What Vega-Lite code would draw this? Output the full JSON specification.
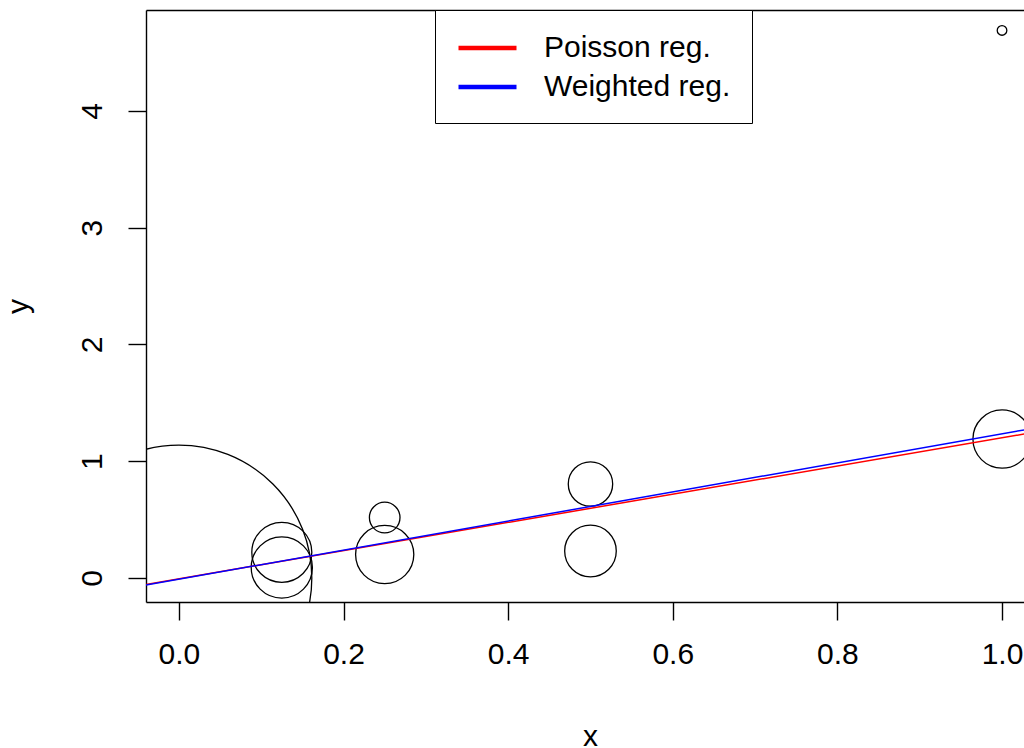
{
  "$schema": "https://vega.github.io/schema/vega-lite/v6.json",
  "width": 878,
  "height": 592,
  "autosize": "none",
  "padding": {"left": 146, "top": 10, "right": 0, "bottom": 146},
  "background": "white",
  "config": {
    "view": {"stroke": null},
    "font": "Liberation Sans",
    "axis": {
      "grid": false,
      "domainColor": "black",
      "domainWidth": 1.4,
      "tickColor": "black",
      "tickWidth": 1.4,
      "tickSize": 18,
      "labelFont": "Liberation Sans",
      "labelFontSize": 30,
      "labelColor": "black",
      "titleFont": "Liberation Sans",
      "titleFontSize": 30,
      "titleFontWeight": "normal",
      "titleColor": "black"
    },
    "legend": {
      "labelFont": "Liberation Sans"
    }
  },
  "datasets": {
    "points": [
      {"x": 0.0, "y": 0.0, "w": 4.43},
      {"x": 0.125, "y": 0.22, "w": 1.0},
      {"x": 0.125, "y": 0.09, "w": 1.02},
      {"x": 0.25, "y": 0.518, "w": 0.51},
      {"x": 0.25, "y": 0.201, "w": 0.97},
      {"x": 0.5, "y": 0.805, "w": 0.74},
      {"x": 0.5, "y": 0.231, "w": 0.86},
      {"x": 1.0, "y": 1.19, "w": 0.97},
      {"x": 1.0, "y": 4.69, "w": 0.16}
    ],
    "lines": [
      {"x": -0.04, "y": -0.0553, "model": "Poisson reg."},
      {"x": 1.04, "y": 1.249, "model": "Poisson reg."},
      {"x": -0.04, "y": -0.0598, "model": "Weighted reg."},
      {"x": 1.04, "y": 1.285, "model": "Weighted reg."}
    ]
  },
  "layer": [
    {
      "data": {"name": "points"},
      "mark": {"type": "point", "shape": "circle", "filled": false, "stroke": "black", "strokeWidth": 1.3, "opacity": 1, "clip": true},
      "encoding": {
        "x": {
          "field": "x", "type": "quantitative",
          "scale": {"domain": [-0.04, 1.0267], "nice": false, "zero": false},
          "axis": {"orient": "bottom", "values": [0, 0.2, 0.4, 0.6, 0.8, 1.0], "format": ".1f", "labelPadding": 19, "title": "x", "titleX": 444, "titleY": 143, "titleBaseline": "alphabetic", "titleAlign": "center"}
        },
        "y": {
          "field": "y", "type": "quantitative",
          "scale": {"domain": [-0.2056, 4.865], "nice": false, "zero": false},
          "axis": {"orient": "left", "values": [0, 1, 2, 3, 4], "format": "d", "labelAngle": 270, "labelPadding": 21, "title": "y", "titleAngle": 270, "titleX": -119, "titleY": 296, "titleBaseline": "alphabetic", "titleAlign": "center"}
        },
        "size": {
          "field": "w", "type": "quantitative",
          "scale": {"type": "pow", "exponent": 2, "domain": [0, 1], "range": [0, 3600]},
          "legend": null
        }
      }
    },
    {
      "data": {"name": "lines"},
      "mark": {"type": "line", "strokeWidth": 1.5, "clip": true},
      "encoding": {
        "x": {
          "field": "x", "type": "quantitative",
          "axis": {"orient": "top", "labels": false, "ticks": false, "title": null, "domain": true}
        },
        "y": {"field": "y", "type": "quantitative"},
        "color": {
          "field": "model", "type": "nominal",
          "scale": {"domain": ["Poisson reg.", "Weighted reg."], "range": ["red", "blue"]},
          "legend": {
            "orient": "none", "legendX": 289, "legendY": 0,
            "title": null,
            "symbolType": "M-1,0H3", "symbolSize": 841, "symbolStrokeWidth": 4.5,
            "labelFontSize": 30, "labelColor": "black", "labelOffset": 54, "labelLimit": 500,
            "strokeColor": "black", "fillColor": "white", "padding": 21, "rowPadding": 7,
            "cornerRadius": 0
          }
        }
      }
    }
  ]
}
